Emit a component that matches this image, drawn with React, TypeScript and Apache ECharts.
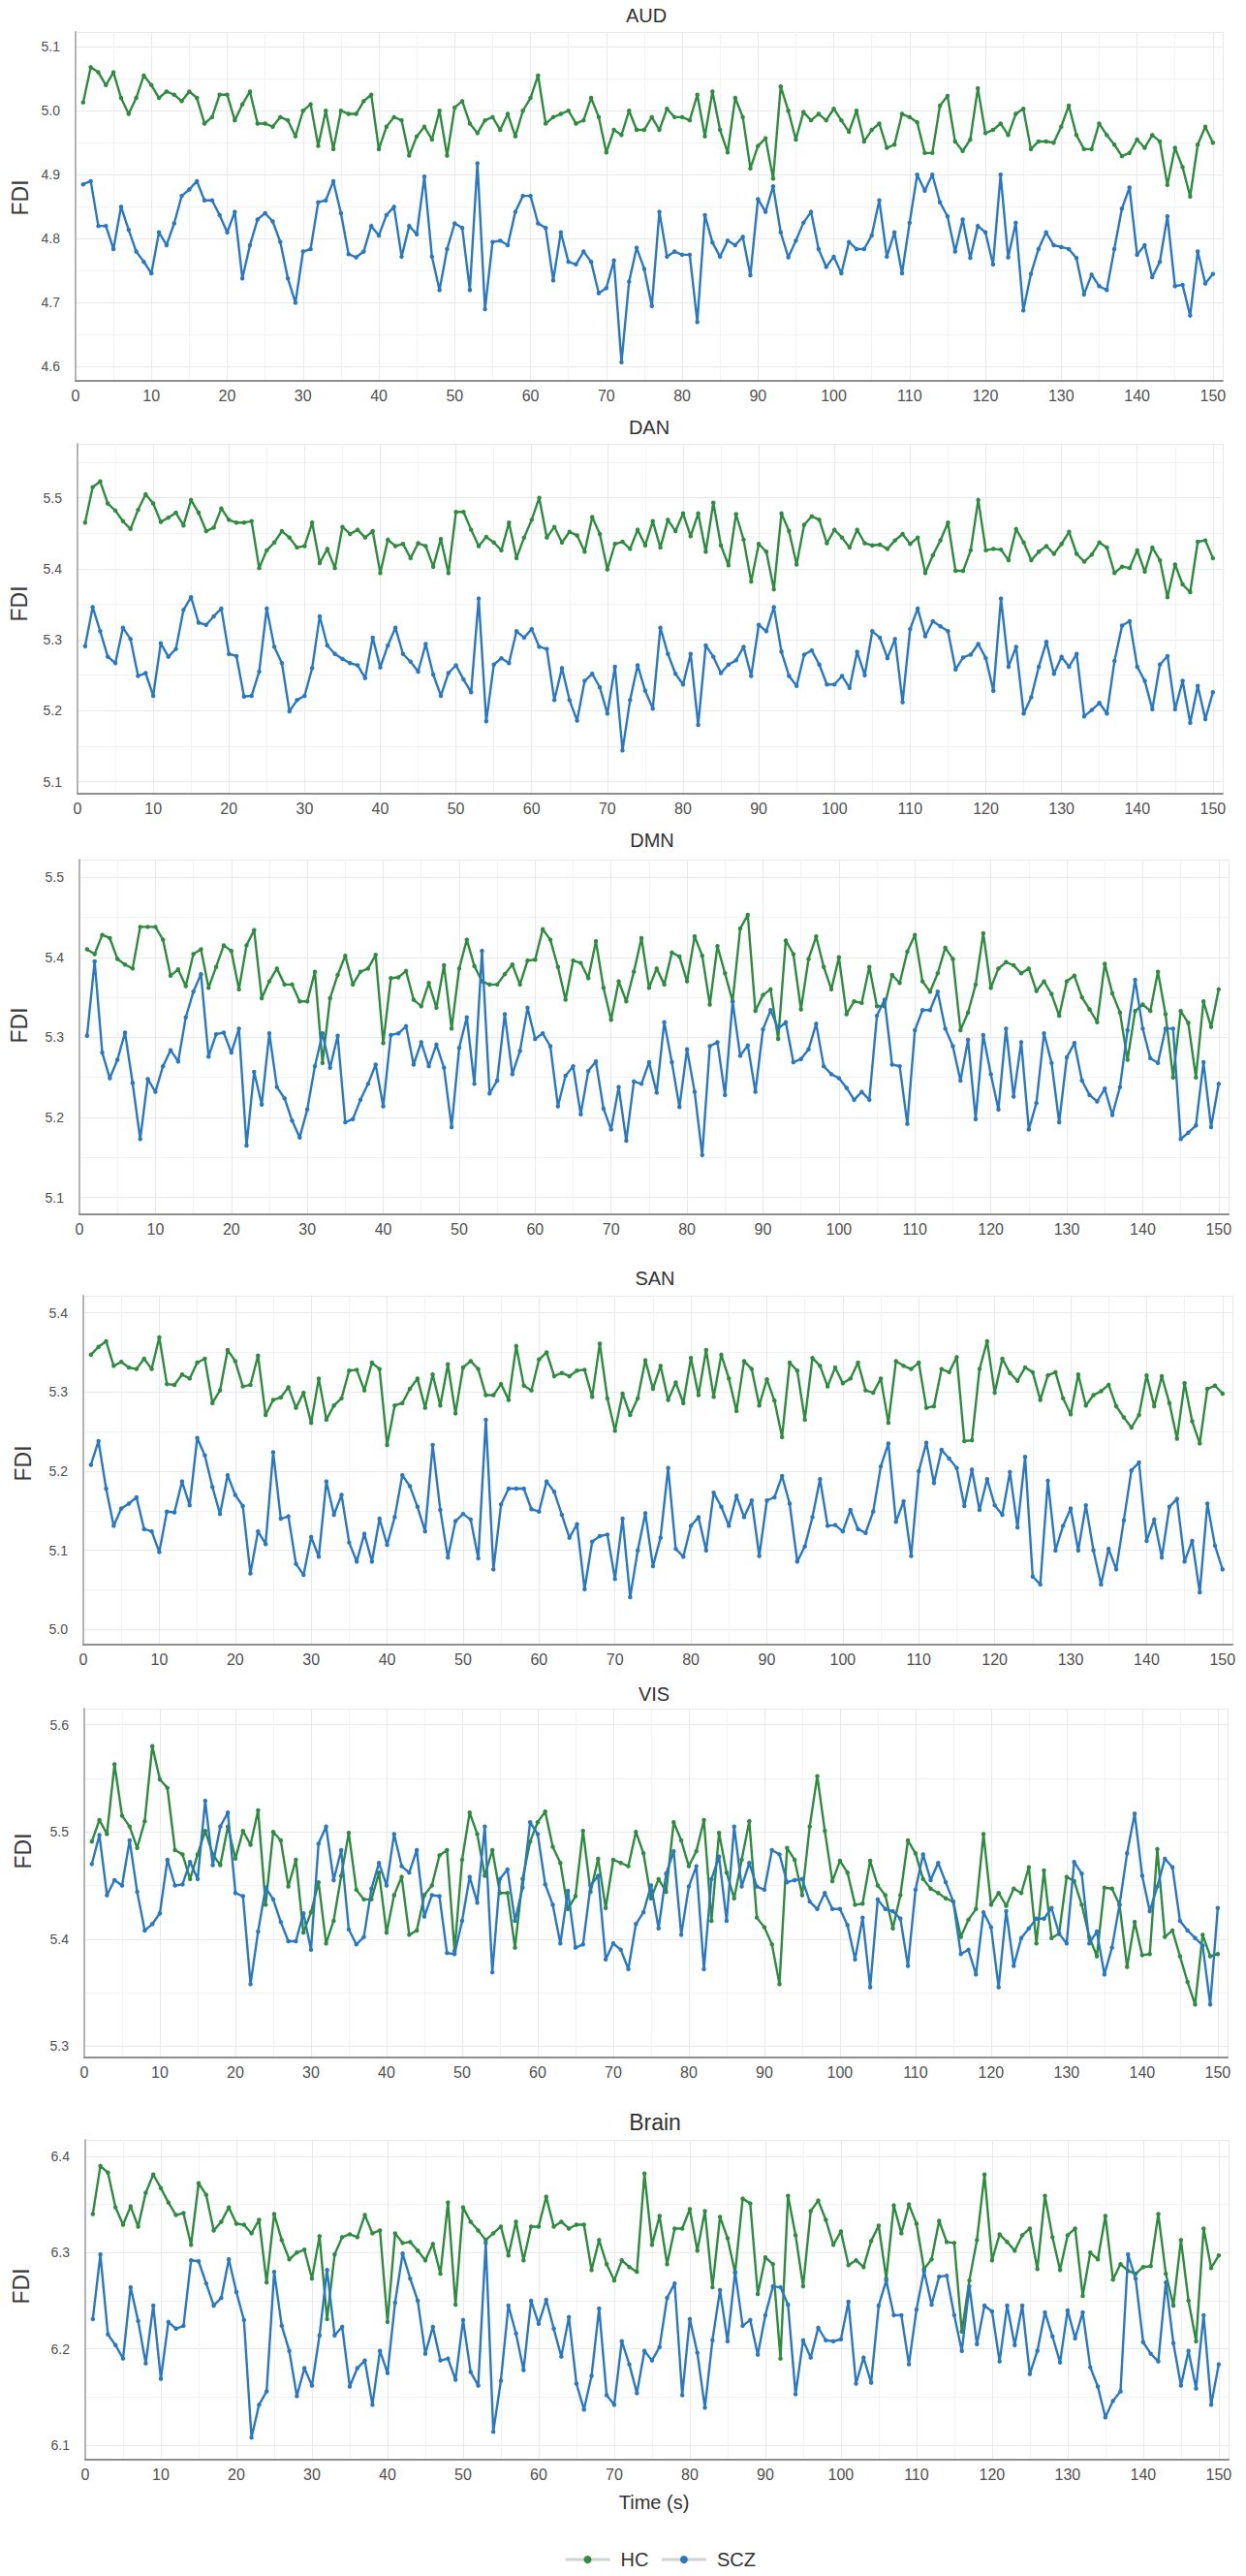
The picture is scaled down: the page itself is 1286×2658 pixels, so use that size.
import React, { useEffect, useRef } from "react";
import * as echarts from "echarts";

// ---------- data ----------
const TIME: number[] = Array.from({ length: 150 }, (_, i) => i + 1);
const X_TICKS = [0, 10, 20, 30, 40, 50, 60, 70, 80, 90, 100, 110, 120, 130, 140, 150];
const SERIES_NAMES = ["HC", "SCZ"];
const PANEL_NAMES = ["AUD", "DAN", "DMN", "SAN", "VIS", "Brain"];

const AUD_HC = [5.013,5.068,5.06,5.04,5.06,5.02,4.995,5.02,5.055,5.04,5.02,5.03,5.025,5.015,5.03,5.02,4.98,4.99,5.025,5.025,4.985,5.01,5.03,4.98,4.98,4.975,4.99,4.985,4.96,5.0,5.01,4.945,5.0,4.94,5.0,4.995,4.995,5.015,5.025,4.94,4.975,4.99,4.985,4.93,4.96,4.975,4.955,5.0,4.93,5.005,5.015,4.98,4.965,4.985,4.99,4.97,4.995,4.96,5.0,5.02,5.055,4.98,4.99,4.995,5.0,4.98,4.985,5.02,4.99,4.935,4.97,4.962,5.0,4.97,4.97,4.99,4.97,5.003,4.99,4.99,4.985,5.025,4.96,5.03,4.97,4.935,5.02,4.99,4.91,4.945,4.957,4.894,5.038,5.0,4.955,4.998,4.985,4.995,4.985,5.003,4.985,4.967,5.0,4.952,4.97,4.98,4.942,4.947,4.995,4.99,4.982,4.934,4.934,5.008,5.023,4.952,4.937,4.955,5.035,4.965,4.97,4.98,4.962,4.995,5.003,4.94,4.952,4.952,4.95,4.975,5.008,4.962,4.94,4.94,4.98,4.962,4.947,4.929,4.934,4.955,4.942,4.962,4.952,4.884,4.942,4.912,4.866,4.947,4.975,4.95];
const AUD_SCZ = [4.885,4.89,4.82,4.82,4.784,4.85,4.814,4.78,4.764,4.746,4.81,4.79,4.824,4.867,4.877,4.89,4.86,4.86,4.837,4.81,4.842,4.738,4.79,4.83,4.84,4.827,4.795,4.738,4.7,4.78,4.784,4.857,4.86,4.89,4.84,4.776,4.771,4.78,4.82,4.805,4.837,4.85,4.772,4.82,4.807,4.897,4.772,4.72,4.784,4.824,4.817,4.72,4.918,4.69,4.795,4.797,4.79,4.842,4.867,4.867,4.824,4.817,4.735,4.81,4.764,4.76,4.78,4.764,4.715,4.723,4.766,4.607,4.733,4.786,4.753,4.695,4.842,4.772,4.78,4.775,4.775,4.67,4.837,4.794,4.772,4.797,4.79,4.803,4.743,4.862,4.842,4.882,4.81,4.771,4.797,4.825,4.842,4.784,4.756,4.772,4.746,4.795,4.784,4.784,4.805,4.86,4.772,4.81,4.746,4.825,4.9,4.875,4.9,4.857,4.835,4.78,4.83,4.77,4.82,4.81,4.76,4.9,4.771,4.825,4.688,4.745,4.784,4.81,4.79,4.787,4.784,4.77,4.713,4.744,4.726,4.72,4.784,4.847,4.88,4.775,4.79,4.74,4.764,4.835,4.726,4.728,4.68,4.78,4.73,4.745];

const DAN_HC = [5.465,5.515,5.523,5.492,5.482,5.467,5.456,5.483,5.505,5.492,5.466,5.472,5.479,5.461,5.497,5.479,5.453,5.458,5.485,5.469,5.465,5.465,5.467,5.401,5.426,5.437,5.453,5.444,5.43,5.432,5.465,5.408,5.428,5.401,5.459,5.449,5.455,5.444,5.453,5.394,5.441,5.432,5.435,5.415,5.436,5.432,5.403,5.442,5.394,5.48,5.48,5.455,5.432,5.445,5.437,5.426,5.465,5.415,5.444,5.469,5.5,5.444,5.459,5.437,5.452,5.447,5.424,5.473,5.449,5.399,5.435,5.438,5.428,5.455,5.433,5.467,5.43,5.469,5.453,5.478,5.446,5.478,5.424,5.493,5.433,5.405,5.477,5.441,5.382,5.435,5.424,5.371,5.478,5.453,5.406,5.462,5.474,5.469,5.436,5.455,5.444,5.43,5.455,5.436,5.433,5.434,5.428,5.44,5.449,5.435,5.444,5.394,5.419,5.44,5.465,5.397,5.397,5.426,5.497,5.426,5.428,5.427,5.412,5.456,5.437,5.412,5.424,5.432,5.421,5.435,5.452,5.421,5.41,5.42,5.437,5.43,5.394,5.403,5.401,5.426,5.396,5.43,5.412,5.36,5.406,5.378,5.367,5.438,5.44,5.415];
const DAN_SCZ = [5.291,5.346,5.312,5.276,5.267,5.317,5.301,5.249,5.253,5.221,5.295,5.276,5.287,5.342,5.36,5.324,5.321,5.333,5.344,5.28,5.277,5.22,5.221,5.255,5.344,5.29,5.267,5.199,5.215,5.221,5.26,5.333,5.292,5.28,5.273,5.267,5.264,5.246,5.303,5.261,5.292,5.317,5.28,5.269,5.255,5.294,5.251,5.221,5.253,5.264,5.244,5.226,5.358,5.185,5.265,5.274,5.267,5.312,5.303,5.315,5.29,5.287,5.215,5.26,5.215,5.186,5.242,5.252,5.233,5.196,5.262,5.144,5.215,5.264,5.228,5.203,5.317,5.28,5.252,5.237,5.28,5.18,5.292,5.276,5.253,5.265,5.271,5.29,5.249,5.321,5.312,5.346,5.283,5.249,5.235,5.279,5.285,5.265,5.237,5.237,5.249,5.232,5.283,5.25,5.312,5.303,5.274,5.301,5.212,5.315,5.344,5.305,5.326,5.319,5.312,5.258,5.275,5.279,5.294,5.274,5.228,5.358,5.262,5.29,5.196,5.219,5.262,5.297,5.252,5.276,5.262,5.28,5.192,5.201,5.211,5.196,5.27,5.32,5.326,5.262,5.242,5.202,5.265,5.277,5.202,5.242,5.183,5.235,5.188,5.226];

const DMN_HC = [5.41,5.404,5.428,5.424,5.398,5.391,5.386,5.438,5.438,5.438,5.422,5.377,5.385,5.364,5.404,5.41,5.362,5.388,5.415,5.408,5.36,5.415,5.434,5.349,5.37,5.386,5.366,5.366,5.345,5.345,5.382,5.268,5.349,5.378,5.402,5.366,5.382,5.386,5.403,5.293,5.374,5.375,5.383,5.347,5.339,5.368,5.337,5.39,5.311,5.386,5.422,5.389,5.37,5.366,5.366,5.379,5.391,5.366,5.396,5.397,5.435,5.422,5.388,5.347,5.396,5.393,5.374,5.42,5.362,5.322,5.37,5.345,5.382,5.424,5.362,5.386,5.366,5.406,5.401,5.37,5.426,5.402,5.341,5.414,5.38,5.345,5.436,5.453,5.333,5.353,5.36,5.298,5.421,5.404,5.335,5.398,5.426,5.388,5.36,5.4,5.329,5.345,5.343,5.388,5.339,5.339,5.378,5.368,5.407,5.428,5.37,5.357,5.38,5.412,5.398,5.309,5.331,5.366,5.43,5.362,5.386,5.394,5.39,5.38,5.386,5.358,5.37,5.354,5.327,5.37,5.377,5.35,5.335,5.319,5.392,5.355,5.331,5.272,5.333,5.341,5.333,5.382,5.329,5.25,5.333,5.318,5.25,5.345,5.313,5.36];
const DMN_SCZ = [5.302,5.395,5.281,5.249,5.272,5.306,5.243,5.173,5.248,5.232,5.264,5.284,5.27,5.325,5.357,5.379,5.276,5.304,5.306,5.281,5.311,5.165,5.257,5.216,5.305,5.238,5.224,5.196,5.175,5.21,5.264,5.305,5.262,5.302,5.194,5.198,5.222,5.242,5.266,5.214,5.303,5.305,5.314,5.266,5.294,5.264,5.291,5.262,5.188,5.287,5.325,5.242,5.408,5.23,5.246,5.329,5.254,5.283,5.337,5.298,5.305,5.289,5.214,5.252,5.264,5.204,5.258,5.27,5.211,5.185,5.238,5.171,5.245,5.242,5.269,5.231,5.319,5.269,5.213,5.285,5.232,5.153,5.289,5.294,5.228,5.345,5.277,5.29,5.232,5.31,5.334,5.311,5.319,5.269,5.273,5.285,5.317,5.264,5.254,5.249,5.237,5.222,5.232,5.222,5.327,5.347,5.266,5.264,5.192,5.309,5.334,5.334,5.357,5.311,5.289,5.246,5.297,5.198,5.303,5.254,5.21,5.311,5.226,5.294,5.185,5.218,5.305,5.268,5.194,5.275,5.293,5.246,5.228,5.22,5.236,5.203,5.238,5.309,5.372,5.311,5.274,5.268,5.311,5.311,5.173,5.181,5.19,5.269,5.188,5.242];

const SAN_HC = [5.347,5.357,5.364,5.333,5.338,5.331,5.329,5.342,5.329,5.369,5.31,5.309,5.322,5.317,5.337,5.342,5.286,5.302,5.353,5.339,5.307,5.309,5.346,5.271,5.29,5.293,5.306,5.28,5.299,5.261,5.317,5.265,5.283,5.292,5.327,5.328,5.302,5.337,5.329,5.233,5.283,5.286,5.304,5.317,5.28,5.322,5.283,5.335,5.273,5.331,5.339,5.329,5.296,5.296,5.31,5.29,5.358,5.308,5.302,5.341,5.35,5.32,5.324,5.32,5.327,5.328,5.294,5.361,5.292,5.251,5.298,5.271,5.292,5.34,5.304,5.333,5.29,5.312,5.286,5.343,5.296,5.353,5.294,5.347,5.317,5.276,5.339,5.329,5.283,5.316,5.289,5.243,5.337,5.327,5.265,5.343,5.333,5.307,5.331,5.311,5.317,5.337,5.302,5.299,5.317,5.261,5.339,5.333,5.329,5.337,5.28,5.282,5.329,5.325,5.344,5.238,5.239,5.329,5.364,5.299,5.342,5.324,5.314,5.331,5.325,5.29,5.321,5.325,5.292,5.272,5.322,5.283,5.296,5.301,5.309,5.282,5.268,5.255,5.271,5.321,5.282,5.32,5.286,5.241,5.311,5.263,5.235,5.304,5.308,5.298];
const SAN_SCZ = [5.208,5.238,5.178,5.131,5.153,5.159,5.167,5.127,5.124,5.098,5.149,5.148,5.187,5.157,5.242,5.22,5.18,5.146,5.195,5.17,5.156,5.071,5.124,5.108,5.224,5.14,5.143,5.083,5.069,5.117,5.092,5.187,5.145,5.17,5.11,5.086,5.121,5.086,5.14,5.107,5.142,5.195,5.181,5.155,5.124,5.233,5.151,5.091,5.137,5.146,5.139,5.09,5.265,5.076,5.158,5.178,5.178,5.178,5.152,5.149,5.187,5.174,5.145,5.116,5.133,5.051,5.111,5.118,5.12,5.064,5.14,5.041,5.1,5.147,5.08,5.116,5.204,5.102,5.092,5.131,5.142,5.1,5.173,5.155,5.131,5.169,5.142,5.163,5.093,5.163,5.167,5.194,5.159,5.086,5.105,5.142,5.19,5.131,5.132,5.124,5.151,5.127,5.122,5.149,5.206,5.235,5.136,5.162,5.093,5.2,5.236,5.185,5.227,5.216,5.204,5.156,5.202,5.151,5.19,5.157,5.145,5.199,5.129,5.218,5.067,5.057,5.188,5.1,5.131,5.153,5.1,5.157,5.1,5.057,5.102,5.076,5.138,5.201,5.211,5.112,5.139,5.091,5.155,5.165,5.086,5.112,5.047,5.159,5.106,5.076];

const VIS_HC = [5.491,5.511,5.498,5.563,5.515,5.505,5.485,5.51,5.58,5.549,5.541,5.483,5.479,5.456,5.479,5.501,5.479,5.469,5.505,5.475,5.501,5.488,5.52,5.432,5.5,5.492,5.449,5.474,5.406,5.425,5.453,5.396,5.417,5.459,5.499,5.446,5.437,5.437,5.462,5.406,5.441,5.458,5.404,5.408,5.441,5.45,5.478,5.483,5.389,5.474,5.518,5.498,5.459,5.483,5.443,5.443,5.392,5.456,5.491,5.509,5.519,5.486,5.471,5.428,5.44,5.501,5.444,5.475,5.429,5.474,5.471,5.468,5.5,5.48,5.438,5.456,5.444,5.509,5.492,5.468,5.482,5.511,5.417,5.499,5.462,5.438,5.474,5.51,5.42,5.411,5.395,5.358,5.485,5.474,5.441,5.505,5.552,5.501,5.454,5.473,5.462,5.432,5.433,5.473,5.45,5.441,5.41,5.441,5.492,5.48,5.456,5.447,5.443,5.438,5.435,5.402,5.418,5.428,5.498,5.432,5.443,5.431,5.447,5.443,5.467,5.396,5.464,5.401,5.405,5.458,5.454,5.432,5.402,5.384,5.448,5.447,5.432,5.374,5.416,5.385,5.386,5.484,5.402,5.408,5.384,5.36,5.339,5.404,5.384,5.386];
const VIS_SCZ = [5.47,5.497,5.441,5.455,5.45,5.492,5.444,5.408,5.414,5.424,5.474,5.45,5.451,5.472,5.456,5.529,5.469,5.505,5.518,5.443,5.44,5.358,5.407,5.448,5.437,5.416,5.398,5.398,5.424,5.39,5.489,5.505,5.455,5.483,5.409,5.395,5.402,5.447,5.471,5.45,5.498,5.468,5.462,5.483,5.421,5.441,5.44,5.387,5.386,5.417,5.458,5.434,5.505,5.369,5.456,5.465,5.417,5.448,5.509,5.498,5.451,5.432,5.396,5.445,5.392,5.395,5.45,5.459,5.381,5.396,5.39,5.372,5.414,5.425,5.45,5.41,5.461,5.482,5.404,5.449,5.468,5.372,5.456,5.477,5.417,5.505,5.449,5.471,5.449,5.446,5.483,5.479,5.453,5.455,5.456,5.435,5.428,5.443,5.428,5.428,5.413,5.381,5.42,5.355,5.437,5.428,5.426,5.419,5.375,5.446,5.479,5.455,5.471,5.453,5.435,5.386,5.39,5.367,5.425,5.411,5.355,5.426,5.375,5.401,5.41,5.419,5.419,5.429,5.405,5.396,5.472,5.461,5.396,5.407,5.367,5.392,5.432,5.48,5.517,5.459,5.426,5.449,5.475,5.467,5.417,5.408,5.401,5.394,5.339,5.429];

const BRAIN_HC = [6.34,6.39,6.383,6.347,6.329,6.348,6.327,6.362,6.381,6.367,6.352,6.339,6.341,6.308,6.372,6.36,6.323,6.332,6.347,6.33,6.329,6.32,6.334,6.269,6.34,6.313,6.293,6.3,6.303,6.273,6.317,6.231,6.298,6.316,6.319,6.316,6.339,6.32,6.323,6.228,6.32,6.31,6.311,6.302,6.292,6.309,6.278,6.352,6.246,6.347,6.332,6.323,6.313,6.32,6.327,6.297,6.332,6.292,6.327,6.327,6.358,6.327,6.332,6.325,6.329,6.329,6.282,6.313,6.288,6.271,6.292,6.285,6.28,6.382,6.308,6.338,6.288,6.325,6.325,6.345,6.302,6.343,6.264,6.337,6.315,6.279,6.356,6.351,6.257,6.295,6.288,6.19,6.359,6.318,6.265,6.343,6.354,6.334,6.308,6.322,6.287,6.292,6.285,6.312,6.328,6.273,6.349,6.32,6.35,6.33,6.283,6.293,6.333,6.311,6.31,6.218,6.271,6.313,6.381,6.292,6.319,6.311,6.302,6.318,6.325,6.283,6.359,6.316,6.282,6.318,6.325,6.255,6.3,6.293,6.338,6.272,6.288,6.281,6.278,6.285,6.286,6.34,6.278,6.245,6.313,6.25,6.208,6.325,6.284,6.297];
const BRAIN_SCZ = [6.231,6.298,6.215,6.204,6.19,6.264,6.229,6.185,6.245,6.169,6.228,6.221,6.224,6.292,6.291,6.268,6.245,6.253,6.293,6.259,6.23,6.108,6.142,6.156,6.28,6.224,6.198,6.151,6.18,6.162,6.214,6.282,6.214,6.223,6.161,6.18,6.188,6.142,6.198,6.175,6.248,6.299,6.273,6.25,6.195,6.223,6.188,6.19,6.168,6.23,6.176,6.162,6.31,6.114,6.167,6.245,6.216,6.178,6.25,6.226,6.251,6.221,6.192,6.233,6.164,6.137,6.172,6.242,6.152,6.142,6.208,6.184,6.154,6.198,6.188,6.202,6.253,6.268,6.152,6.231,6.196,6.139,6.209,6.261,6.208,6.28,6.224,6.23,6.194,6.235,6.265,6.264,6.246,6.153,6.209,6.191,6.222,6.209,6.208,6.21,6.249,6.164,6.191,6.165,6.245,6.271,6.235,6.235,6.184,6.241,6.281,6.246,6.275,6.276,6.235,6.198,6.265,6.205,6.245,6.239,6.187,6.245,6.204,6.245,6.174,6.198,6.238,6.213,6.186,6.24,6.211,6.238,6.181,6.161,6.129,6.146,6.156,6.298,6.273,6.207,6.195,6.187,6.269,6.206,6.162,6.198,6.159,6.235,6.142,6.184];

const HC_VALUES = [AUD_HC, DAN_HC, DMN_HC, SAN_HC, VIS_HC, BRAIN_HC];
const SCZ_VALUES = [AUD_SCZ, DAN_SCZ, DMN_SCZ, SAN_SCZ, VIS_SCZ, BRAIN_SCZ];
const Y_MIN = [4.578, 5.083, 5.079, 4.981, 5.2895, 6.085];
const Y_MAX = [5.123, 5.576, 5.522, 5.4215, 5.615, 6.417];

// ---------- layout (pixels) ----------
const LAYOUT = [
  { left: 78, width: 1184, top: 33, height: 360, titleX: 667, titleY: 16, titleSize: 20, fdiX: 21, fdiY: 204 },
  { left: 80, width: 1182, top: 458, height: 361, titleX: 670, titleY: 441, titleSize: 20, fdiX: 20, fdiY: 623 },
  { left: 82, width: 1186, top: 887, height: 366, titleX: 673, titleY: 867, titleSize: 20, fdiX: 20, fdiY: 1058 },
  { left: 86, width: 1186, top: 1337, height: 360, titleX: 676, titleY: 1319, titleSize: 20, fdiX: 24, fdiY: 1510 },
  { left: 87, width: 1180, top: 1763, height: 360, titleX: 675, titleY: 1748, titleSize: 20, fdiX: 24, fdiY: 1910 },
  { left: 88, width: 1180, top: 2208, height: 330, titleX: 676, titleY: 2190, titleSize: 23, fdiX: 22, fdiY: 2359 },
];

const GREEN = "#2E8B40";
const BLUE = "#2A78C2";
const FONT = "Liberation Sans, Arial, Helvetica, sans-serif";

function isMultiple(v: number, step: number) {
  const r = v / step;
  return Math.abs(r - Math.round(r)) < 1e-6;
}

export default function App() {
  const ref = useRef<HTMLDivElement>(null);

  useEffect(() => {
    if (!ref.current) return;
    const chart = echarts.init(ref.current, undefined, { renderer: "svg" });

    const grids = LAYOUT.map((l) => ({ left: l.left, top: l.top, width: l.width, height: l.height, containLabel: false }));

    const xAxes = LAYOUT.map((_, i) => ({
      type: "value",
      gridIndex: i,
      min: X_TICKS[0],
      max: 151.3,
      interval: 10,
      axisLine: { show: true, onZero: false, lineStyle: { color: "#8f8f8f", width: 2 } },
      axisTick: { show: false },
      axisLabel: {
        fontSize: 16,
        color: "#505050",
        fontFamily: FONT,
        margin: 7,
        formatter: (v: number) => (isMultiple(v, 10) && X_TICKS.indexOf(Math.round(v)) >= 0 ? String(Math.round(v)) : ""),
      },
      splitLine: { show: true, lineStyle: { color: "#e9e9e9", width: 1 } },
      minorTick: { show: false, splitNumber: 2 },
      minorSplitLine: { show: true, lineStyle: { color: "#f3f3f3", width: 1 } },
    }));

    const yAxes = LAYOUT.map((_, i) => ({
      type: "value",
      gridIndex: i,
      min: Y_MIN[i],
      max: Y_MAX[i],
      splitNumber: 5,
      minInterval: 0.1,
      maxInterval: 0.1,
      axisLine: { show: true, lineStyle: { color: "#b4b4b4", width: 2 } },
      axisTick: { show: false },
      axisLabel: {
        fontSize: 14,
        color: "#505050",
        fontFamily: FONT,
        margin: 16,
        formatter: (v: number) => (isMultiple(v, 0.1) ? v.toFixed(1) : ""),
      },
      splitLine: { show: true, lineStyle: { color: "#e9e9e9", width: 1 } },
      minorTick: { show: false, splitNumber: 2 },
      minorSplitLine: { show: true, lineStyle: { color: "#f3f3f3", width: 1 } },
    }));

    const series: any[] = [];
    PANEL_NAMES.forEach((_, i) => {
      [HC_VALUES[i], SCZ_VALUES[i]].forEach((vals, k) => {
        const color = k === 0 ? GREEN : BLUE;
        series.push({
          type: "line",
          name: SERIES_NAMES[k],
          xAxisIndex: i,
          yAxisIndex: i,
          data: TIME.map((t, j) => [t, vals[j]]),
          symbol: "circle",
          symbolSize: 4.5,
          showSymbol: true,
          lineStyle: { color, width: 2.4 },
          itemStyle: { color },
          emphasis: { disabled: true },
          z: 2 + k,
        });
      });
    });

    const graphic: any[] = [];
    PANEL_NAMES.forEach((name, i) => {
      const l = LAYOUT[i];
      graphic.push({
        type: "text",
        x: l.titleX,
        y: l.titleY,
        style: { text: name, fontSize: l.titleSize, fontFamily: FONT, fill: "#333333", textAlign: "center", textVerticalAlign: "middle" },
      });
      graphic.push({
        type: "text",
        x: l.fdiX,
        y: l.fdiY,
        rotation: Math.PI / 2,
        style: { text: "FDI", fontSize: 23, fontFamily: FONT, fill: "#3a3a3a", textAlign: "center", textVerticalAlign: "middle" },
      });
    });
    graphic.push({
      type: "text",
      x: 675,
      y: 2582,
      style: { text: "Time (s)", fontSize: 20, fontFamily: FONT, fill: "#333333", textAlign: "center", textVerticalAlign: "middle" },
    });

    chart.setOption({
      animation: false,
      backgroundColor: "#ffffff",
      grid: grids,
      xAxis: xAxes,
      yAxis: yAxes,
      series,
      graphic,
      legend: {
        data: SERIES_NAMES,
        left: 577,
        top: 2626,
        itemWidth: 46,
        itemHeight: 10,
        itemGap: 12,
        selectedMode: false,
        lineStyle: { color: "#cfd4d0", width: 3 },
        textStyle: { fontSize: 20, color: "#333333", fontFamily: FONT, padding: [0, 0, 0, 6] },
      },
    });

    return () => chart.dispose();
  }, []);

  return (
    <div
      ref={ref}
      style={{ position: "absolute", left: 0, top: 0, width: 1286, height: 2658, background: "#ffffff" }}
    />
  );
}
